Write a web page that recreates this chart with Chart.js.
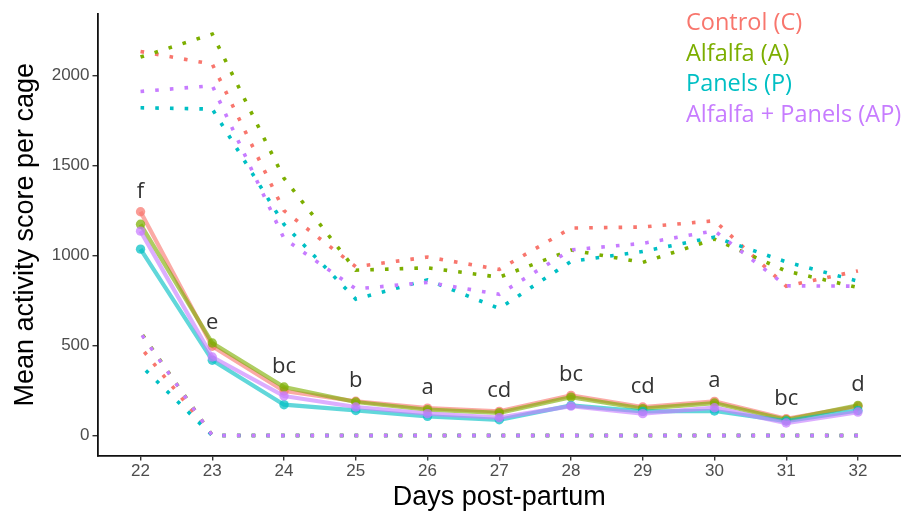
<!DOCTYPE html>
<html>
<head>
<meta charset="utf-8">
<script src="https://cdn.jsdelivr.net/npm/chart.js@4.4.1/dist/chart.umd.min.js"></script>
<style>
  html, body { margin: 0; padding: 0; background: #ffffff; }
  #wrap { width: 901px; height: 513px; }
</style>
</head>
<body>
<div id="wrap"><canvas id="chart" width="901" height="513"></canvas></div>
<script>
// Days after birth (x axis) and the significance letters printed above each day
const days = [22, 23, 24, 25, 26, 27, 28, 29, 30, 31, 32];
const groupLetters = ['f', 'e', 'bc', 'b', 'a', 'cd', 'bc', 'cd', 'a', 'bc', 'd'];
const yTicks = [0, 500, 1000, 1500, 2000];

const seriesNames = ['Control (C)', 'Alfalfa (A)', 'Panels (P)', 'Alfalfa + Panels (AP)'];
const seriesColors = ['#F8766D', '#7CAE00', '#00BFC4', '#C77CFF'];

// Mean activity score per cage
const meanControl = [1244, 496, 247, 190, 152, 134, 223, 158, 189, 93, 162];
const meanAlfalfa = [1174, 514, 269, 186, 143, 126, 213, 149, 180, 87, 167];
const meanPanels  = [1036, 418, 171, 139, 106, 87, 167, 134, 136, 80, 139];
const meanAP      = [1136, 436, 219, 158, 121, 99, 163, 121, 154, 69, 130];

// Upper bound (mean + SD)
const upperControl = [2135, 2065, 1250, 938, 992, 923, 1153, 1159, 1194, 830, 915];
const upperAlfalfa = [2104, 2232, 1430, 919, 932, 880, 1031, 962, 1092, 914, 823];
const upperPanels  = [1822, 1815, 1174, 758, 865, 706, 968, 1023, 1103, 965, 858];
const upperAP      = [1913, 1945, 1095, 815, 851, 785, 1032, 1068, 1138, 832, 830];

// Lower bound (mean - SD, floored at zero)
const lowerControl = [490, 0, 0, 0, 0, 0, 0, 0, 0, 0, 0];
const lowerAlfalfa = [575, 0, 0, 0, 0, 0, 0, 0, 0, 0, 0];
const lowerPanels  = [390, 0, 0, 0, 0, 0, 0, 0, 0, 0, 0];
const lowerAP      = [570, 0, 0, 0, 0, 0, 0, 0, 0, 0, 0];

const means  = [meanControl, meanAlfalfa, meanPanels, meanAP];
const uppers = [upperControl, upperAlfalfa, upperPanels, upperAP];
const lowers = [lowerControl, lowerAlfalfa, lowerPanels, lowerAP];

function rgba(hex, a) {
  const n = parseInt(hex.slice(1), 16);
  return `rgba(${(n >> 16) & 255},${(n >> 8) & 255},${n & 255},${a})`;
}
const toXY = vals => days.map((d, i) => ({ x: d, y: vals[i] }));

// y range: data span [0, max] widened by 5% on each side
const yMaxData = Math.max(...uppers.flat());
const yPad = yMaxData * 0.05;

const datasets = [];
// mean lines with points (later groups drawn on top)
means.forEach((vals, i) => {
  datasets.push({
    label: seriesNames[i],
    data: toXY(vals),
    borderColor: rgba(seriesColors[i], 0.62),
    borderWidth: 4.2,
    pointRadius: 4.7,
    pointBackgroundColor: rgba(seriesColors[i], 0.72),
    pointBorderWidth: 0,
    tension: 0,
    order: 3 - i
  });
});
// dotted upper bounds
uppers.forEach((vals, i) => {
  datasets.push({
    label: seriesNames[i] + ' upper',
    data: toXY(vals),
    borderColor: seriesColors[i],
    borderWidth: 3.6,
    borderDash: [3.6, 11.1],
    borderCapStyle: 'butt',
    pointRadius: 0,
    tension: 0,
    order: 10 - i
  });
});
// dotted lower bounds, traced from the last day back so the flat stretch at zero
// lines up dot for dot across groups
lowers.forEach((vals, i) => {
  datasets.push({
    label: seriesNames[i] + ' lower',
    data: toXY(vals).reverse(),
    borderColor: seriesColors[i],
    borderWidth: 3.6,
    borderDash: [3.6, 11.1],
    borderCapStyle: 'butt',
    pointRadius: 0,
    tension: 0,
    order: 20 - i
  });
});

// Letters above each day and the coloured legend text in the top-right corner
const annotations = {
  id: 'annotations',
  afterDatasetsDraw(chart) {
    const { ctx, scales: { x, y } } = chart;
    ctx.save();
    ctx.font = '22px "Open Sans"';
    ctx.fillStyle = '#333333';
    ctx.textAlign = 'center';
    ctx.textBaseline = 'alphabetic';
    days.forEach((d, i) => {
      const top = Math.max(...means.map(m => m[i]));
      ctx.fillText(groupLetters[i], x.getPixelForValue(d), y.getPixelForValue(top + 78));
    });
    ctx.textAlign = 'left';
    ctx.font = '23.5px "Open Sans"';
    seriesNames.forEach((name, i) => {
      ctx.fillStyle = seriesColors[i];
      ctx.fillText(name, 686, 30 + i * 30.5);
    });
    ctx.restore();
  }
};

new Chart(document.getElementById('chart'), {
  type: 'line',
  data: { datasets },
  options: {
    responsive: false,
    animation: false,
    devicePixelRatio: 1,
    layout: { autoPadding: false, padding: { top: 14, right: 0, left: 0, bottom: 0 } },
    plugins: { legend: { display: false }, tooltip: { enabled: false } },
    scales: {
      x: {
        type: 'linear',
        min: 21.4,
        max: 32.6,
        afterBuildTicks: s => { s.ticks = days.map(v => ({ value: v })); },
        afterFit: s => { s.height = 57.5; s.paddingLeft = 0; s.paddingRight = 0; },
        grid: { drawOnChartArea: false, drawTicks: true, tickLength: 5, color: '#333333', lineWidth: 1.4 },
        border: { display: true, color: '#111111', width: 1.8 },
        ticks: {
          padding: 1,
          color: '#4D4D4D',
          font: { family: '"Liberation Sans", Arial, sans-serif', size: 17 },
          callback: v => String(v),
          maxRotation: 0,
          autoSkip: false
        },
        title: {
          display: true,
          text: 'Days post-partum',
          color: '#000000',
          font: { family: '"Liberation Sans", Arial, sans-serif', size: 27, lineHeight: 1 },
          padding: { top: 0, bottom: 2 }
        }
      },
      y: {
        type: 'linear',
        min: -yPad,
        max: yMaxData + yPad,
        afterBuildTicks: s => { s.ticks = yTicks.map(v => ({ value: v })); },
        afterFit: s => { s.width = 97.5; s.paddingTop = 0; s.paddingBottom = 0; },
        grid: { drawOnChartArea: false, drawTicks: true, tickLength: 5, color: '#333333', lineWidth: 1.4 },
        border: { display: true, color: '#111111', width: 1.8 },
        ticks: {
          padding: 3,
          color: '#4D4D4D',
          font: { family: '"Liberation Sans", Arial, sans-serif', size: 17 },
          callback: v => String(v),
          autoSkip: false
        },
        title: {
          display: true,
          text: 'Mean activity score per cage',
          color: '#000000',
          font: { family: '"Liberation Sans", Arial, sans-serif', size: 27, lineHeight: 1 },
          padding: { top: 12, bottom: 0 }
        }
      }
    }
  },
  plugins: [annotations]
});
</script>
</body>
</html>
